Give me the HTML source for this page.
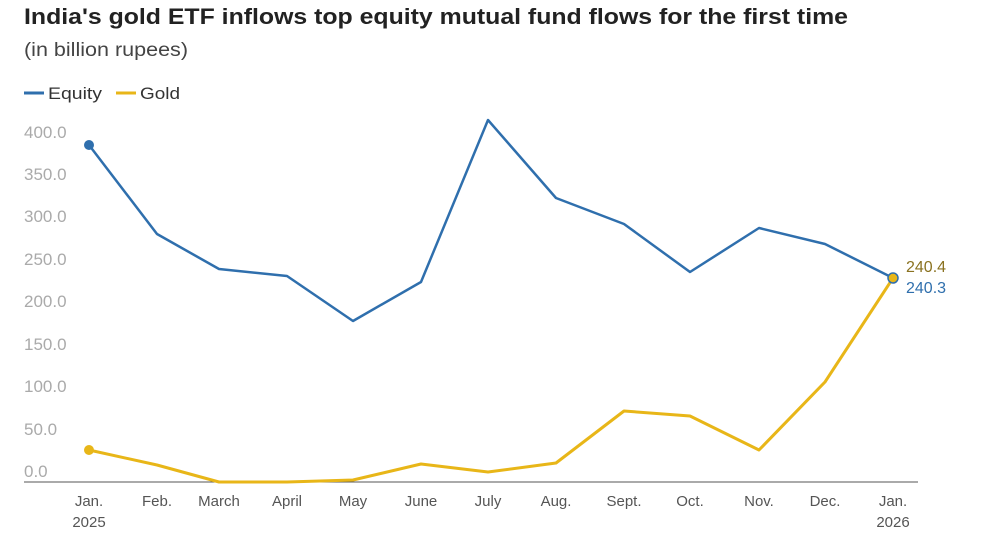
<!DOCTYPE html>
<html><head><meta charset="utf-8"><style>
body{margin:0;background:#fff;width:1000px;height:545px;overflow:hidden;font-family:"Liberation Sans",sans-serif}
</style></head><body>
<svg width="1000" height="545" xmlns="http://www.w3.org/2000/svg" font-family="Liberation Sans, sans-serif">
<text x="24" y="24" font-size="22" font-weight="bold" fill="#222" textLength="824" lengthAdjust="spacingAndGlyphs">India's gold ETF inflows top equity mutual fund flows for the first time</text>
<text x="24" y="56" font-size="19" fill="#444" textLength="164" lengthAdjust="spacingAndGlyphs">(in billion rupees)</text>
<line x1="24" y1="93" x2="44" y2="93" stroke="#2f6fad" stroke-width="3"/>
<text x="48" y="99" font-size="17" fill="#333" textLength="54" lengthAdjust="spacingAndGlyphs">Equity</text>
<line x1="116" y1="93" x2="136" y2="93" stroke="#e8b618" stroke-width="3"/>
<text x="140" y="99" font-size="17" fill="#333" textLength="40" lengthAdjust="spacingAndGlyphs">Gold</text>
<g font-size="17" fill="#aaa">
<text x="24" y="138">400.0</text><text x="24" y="180">350.0</text><text x="24" y="222">300.0</text><text x="24" y="265">250.0</text><text x="24" y="307">200.0</text><text x="24" y="350">150.0</text><text x="24" y="392">100.0</text><text x="24" y="435">50.0</text><text x="24" y="477">0.0</text>
</g>
<line x1="24" y1="482" x2="918" y2="482" stroke="#555" stroke-width="1"/>
<g font-size="15" fill="#555" text-anchor="middle">
<text x="89" y="506">Jan.</text><text x="89" y="527">2025</text>
<text x="157" y="506">Feb.</text><text x="219" y="506">March</text><text x="287" y="506">April</text><text x="353" y="506">May</text><text x="421" y="506">June</text><text x="488" y="506">July</text><text x="556" y="506">Aug.</text><text x="624" y="506">Sept.</text><text x="690" y="506">Oct.</text><text x="759" y="506">Nov.</text><text x="825" y="506">Dec.</text>
<text x="893" y="506">Jan.</text><text x="893" y="527">2026</text>
</g>
<polyline fill="none" stroke="#2f6fad" stroke-width="2.5" stroke-linejoin="round" points="89,145 157,234 219,269 287,276 353,321 421,282 488,120 556,198 624,224 690,272 759,228 825,244 893,278"/>
<polyline fill="none" stroke="#e8b618" stroke-width="3" stroke-linejoin="round" points="89,450 157,465 219,482 287,482 353,480 421,464 488,472 556,463 624,411 690,416 759,450 825,382 893,278"/>
<circle cx="89" cy="145" r="5" fill="#2f6fad"/>
<circle cx="89" cy="450" r="5" fill="#e8b618"/>
<circle cx="893" cy="278" r="5" fill="#e8b618" stroke="#2f6fad" stroke-width="1.5"/>
<text x="906" y="272" font-size="16" fill="#8a7220">240.4</text>
<text x="906" y="293" font-size="16" fill="#2f6fad">240.3</text>
</svg>
</body></html>
